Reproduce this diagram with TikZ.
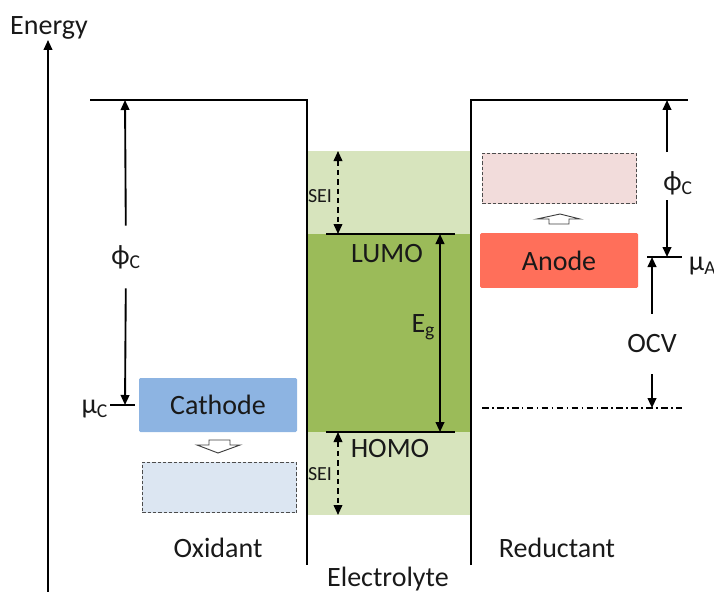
\documentclass[tikz,border=0pt]{standalone}
\usepackage{fontspec}
\setmainfont{Carlito}
\usetikzlibrary{arrows.meta}
\definecolor{seigreen}{HTML}{D7E4BD}
\definecolor{gapgreen}{HTML}{9BBB59}
\definecolor{cathblue}{HTML}{8DB4E2}
\definecolor{cathpale}{HTML}{DCE6F2}
\definecolor{anodered}{HTML}{FF6F5A}
\definecolor{anodepale}{HTML}{F2DCDB}
\begin{document}
\begin{tikzpicture}[x=0.75pt,y=-0.75pt,>={Triangle[length=7.5pt,width=6.5pt]},line width=1.4pt,
        label text/.style={font=\fontsize{21}{25}\selectfont, text=black!90, inner sep=0pt},
        small text/.style={font=\fontsize{15}{18}\selectfont, text=black!90, inner sep=0pt},
        level box/.style={rectangle, draw=none, rounded corners=1pt, font=\fontsize{21}{25}\selectfont, text=black!90},
        ghost box/.style={rectangle, draw=black!70, line width=0.6pt, dash pattern=on 2.5pt off 1.5pt},
        hollow arrow/.style={draw=black!75, line width=0.7pt, fill=white},
        dim arrow/.style={<->, line width=1.4pt},
        sei arrow/.style={<->, line width=1.2pt, dash pattern=on 4pt off 3pt}]

            \useasboundingbox (0,0) rectangle (714,592);

            % Electrolyte window

            \fill[seigreen] (307,151) rectangle (471,515);
            \fill[gapgreen] (307,234) rectangle (471,432);

            % Frame

            \coordinate (axisbot) at (48,592);
            \coordinate (axistop) at (48,40);
            \draw[->] (axisbot) -- (axistop);
            \node[label text, anchor=base] (energy) at (49,35) {Energy};

            \coordinate (ltopL) at (90,100);
            \coordinate (ltopR) at (307,100);
            \coordinate (lbot) at (307,565);
            \draw (ltopL) -- (ltopR) -- (lbot);

            \coordinate (rtopL) at (471,100);
            \coordinate (rtopR) at (688,100);
            \coordinate (rbot) at (471,565);
            \draw (rbot) -- (rtopL) -- (rtopR);

            % LUMO / HOMO

            \coordinate (lumoL) at (326,234);
            \coordinate (lumoR) at (455,234);
            \coordinate (homoL) at (326,432);
            \coordinate (homoR) at (455,432);
            \draw (lumoL) -- (lumoR);
            \draw (homoL) -- (homoR);
            \node[label text, anchor=base] (lumo) at (387,262) {LUMO};
            \node[label text, anchor=base] (homo) at (390,457) {HOMO};

            \coordinate (egtop) at (440,234);
            \coordinate (egbot) at (440,432);
            \draw[dim arrow] (egtop) -- (egbot);
            \node[label text, anchor=base east] (eg) at (436,332) {E\textsubscript{g}};

            \coordinate (seiAtop) at (338,151);
            \coordinate (seiAbot) at (338,234);
            \coordinate (seiBtop) at (338,432);
            \coordinate (seiBbot) at (338,515);
            \draw[sei arrow] (seiAtop) -- (seiAbot);
            \draw[sei arrow] (seiBtop) -- (seiBbot);
            \node[small text, anchor=base] (seiA) at (320,202) {SEI};
            \node[small text, anchor=base] (seiB) at (320,480) {SEI};

            % Cathode side

            \node[level box, fill=cathblue, minimum width=118.5pt, minimum height=40.5pt] (cathode) at (218,405) {Cathode};
            \node[ghost box, fill=cathpale, minimum width=116pt, minimum height=38pt] (cathlow) at (219.5,487.5) {};
            \draw[hollow arrow] (209,440) -- (230,440) -- (230,445) -- (240,445) -- (218,453)
                -- (197,445) -- (209,445) -- cycle;

            \coordinate (muCL) at (110,405);
            \coordinate (muCR) at (135,405);
            \coordinate (phiLtop) at (125,100);
            \coordinate (phiLbot) at (125,405);
            \draw (muCL) -- (muCR);
            \node[label text, inner ysep=14pt, fill=white] (phiL) at (126,257) {ϕ\textsubscript{C}};
            \draw[->] (phiL) -- (phiLtop);
            \draw[->] (phiL) -- (phiLbot);
            \node[label text, anchor=base east] (muC) at (109,413) {μ\textsubscript{C}};

            \node[label text, anchor=base] (oxidant) at (218,557) {Oxidant};
            \node[label text, anchor=base] (electrolyte) at (388,586) {Electrolyte};

            % Anode side

            \node[ghost box, fill=anodepale, minimum width=116pt, minimum height=38pt] (anodehigh) at (559.5,178.5) {};
            \node[level box, fill=anodered, minimum width=118.5pt, minimum height=41pt] (anode) at (559,260.5) {Anode};
            \draw[hollow arrow] (549,224) -- (569,224) -- (569,219) -- (580,219) -- (560,214)
                -- (537,219) -- (549,219) -- cycle;

            \coordinate (muAL) at (647,257);
            \coordinate (muAR) at (682,257);
            \draw (muAL) -- (muAR);
            \node[label text, anchor=base west] (muA) at (688,270) {μ\textsubscript{A}};

            \coordinate (phiRtop) at (667,100);
            \coordinate (phiRbot) at (667,257);
            \node[label text, anchor=base] (phiR) at (678,190) {ϕ\textsubscript{C}};
            \draw[->] (phiRtop |- 0,152) -- (phiRtop);
            \draw[->] (phiRbot |- 0,200) -- (phiRbot);

            \coordinate (ocvtop) at (652,257);
            \coordinate (ocvbot) at (652,408);
            \node[label text, inner ysep=15pt, fill=white] (ocv) at (652,344) {OCV};
            \draw[->] (ocv) -- (ocvtop);
            \draw[->] (ocv) -- (ocvbot);

            \coordinate (cathL) at (482,408);
            \coordinate (cathR) at (682,408);
            \draw[line width=0.9pt, dash pattern=on 5pt off 2.5pt on 1.2pt off 2.5pt] (cathL) -- (cathR);

            \node[label text, anchor=base] (reductant) at (557,557) {Reductant};
        \end{tikzpicture}
\end{document}
